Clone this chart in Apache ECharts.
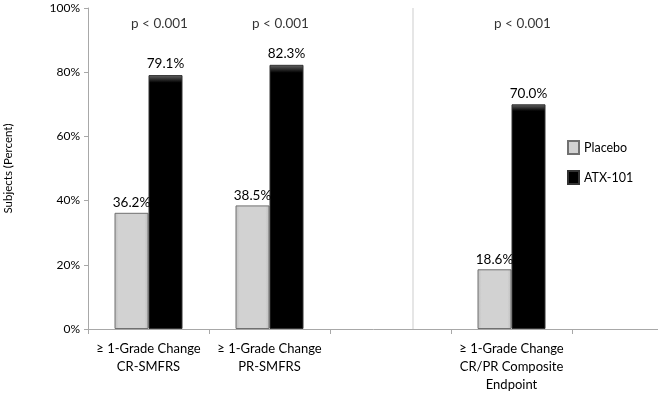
<!DOCTYPE html>
<html><head><meta charset="utf-8">
<script src="https://cdn.jsdelivr.net/npm/echarts@6/dist/echarts.min.js"></script>
<style>html,body{margin:0;padding:0;background:#fff}#c{width:658px;height:395px}</style>
</head><body><div id="c"></div>
<script>
const categories = ['≥ 1-Grade Change\nCR-SMFRS', '≥ 1-Grade Change\nPR-SMFRS', '', '≥ 1-Grade Change\nCR/PR Composite\nEndpoint', ''];
const placebo = [36.2, 38.5, null, 18.6, null];
const atx = [79.1, 82.3, null, 70.0, null];
const pValues = ['p < 0.001', 'p < 0.001', null, 'p < 0.001', null];
const pLevel = 95;
const yTicks = [0, 20, 40, 60, 80, 100];

const FONT = 'Lato, "Liberation Sans", sans-serif';
const chart = echarts.init(document.getElementById('c'));
const placeboColor = {type:'linear',x:0,y:0,x2:1,y2:0,colorStops:[{offset:0,color:'#bdbdbd'},{offset:0.12,color:'#d2d2d2'},{offset:0.88,color:'#d2d2d2'},{offset:1,color:'#bdbdbd'}]};
const atxColor = {type:'linear',x:0,y:0,x2:0,y2:1,colorStops:[{offset:0,color:'#666'},{offset:0.03,color:'#000'},{offset:1,color:'#000'}]};
chart.setOption({
  animation:false,
  grid:{left:88, top:8, width:605, height:321, outerBoundsMode:'none', containLabel:false},
  legend:{
    orient:'vertical', left:562, top:135, itemWidth:11, itemHeight:13, itemGap:15,
    textStyle:{fontFamily:FONT, fontSize:12.5, color:'#000'},
    data:[{name:'Placebo', icon:'rect'},{name:'ATX-101', icon:'rect'}]
  },
  xAxis:{
    type:'category', data:categories,
    axisLine:{lineStyle:{color:'#a8a8a8'}},
    axisTick:{show:true, length:5, lineStyle:{color:'#a8a8a8'}, alignWithLabel:false},
    axisLabel:{fontFamily:FONT, fontSize:13, color:'#000', lineHeight:18, margin:11, interval:0}
  },
  yAxis:{
    type:'value', min:0, max:100, interval:20,
    name:'Subjects (Percent)', nameLocation:'middle', nameGap:74, nameRotate:90,
    nameTextStyle:{fontFamily:FONT, fontSize:11.5, color:'#000'},
    axisLine:{show:true, lineStyle:{color:'#a8a8a8'}},
    axisTick:{show:true, length:4, lineStyle:{color:'#a8a8a8'}},
    splitLine:{show:false},
    axisLabel:{fontFamily:FONT, fontSize:12, color:'#000', margin:8,
      formatter:v => yTicks.includes(v) ? v + '%' : ''}
  },
  graphic:[{type:'line', shape:{x1:413, y1:8, x2:413, y2:329}, style:{stroke:'#e6e6e6', lineWidth:2}, z:-1}],
  series:[
    {name:'Placebo', type:'bar', data:placebo, barWidth:34, barGap:'0%',
      itemStyle:{color:placeboColor, borderColor:'#707070', borderWidth:1},
      label:{show:true, position:'top', distance:3, formatter:p => p.value.toFixed(1)+'%', fontFamily:FONT, fontSize:13.5, color:'#000'}},
    {name:'ATX-101', type:'bar', data:atx, barWidth:34, barGap:'0%',
      itemStyle:{color:atxColor, borderColor:'#333', borderWidth:1},
      label:{show:true, position:'top', distance:4, formatter:p => p.value.toFixed(1)+'%', fontFamily:FONT, fontSize:13.5, color:'#000'}},
    {type:'scatter', symbolSize:0, silent:true, legendHoverLink:false,
      data:pValues.map(v => v ? pLevel : null),
      label:{show:true, position:'inside', offset:[11,0], formatter:p => pValues[p.dataIndex], fontFamily:FONT, fontSize:13.5, color:'#000'}}
  ]
});
</script></body></html>
